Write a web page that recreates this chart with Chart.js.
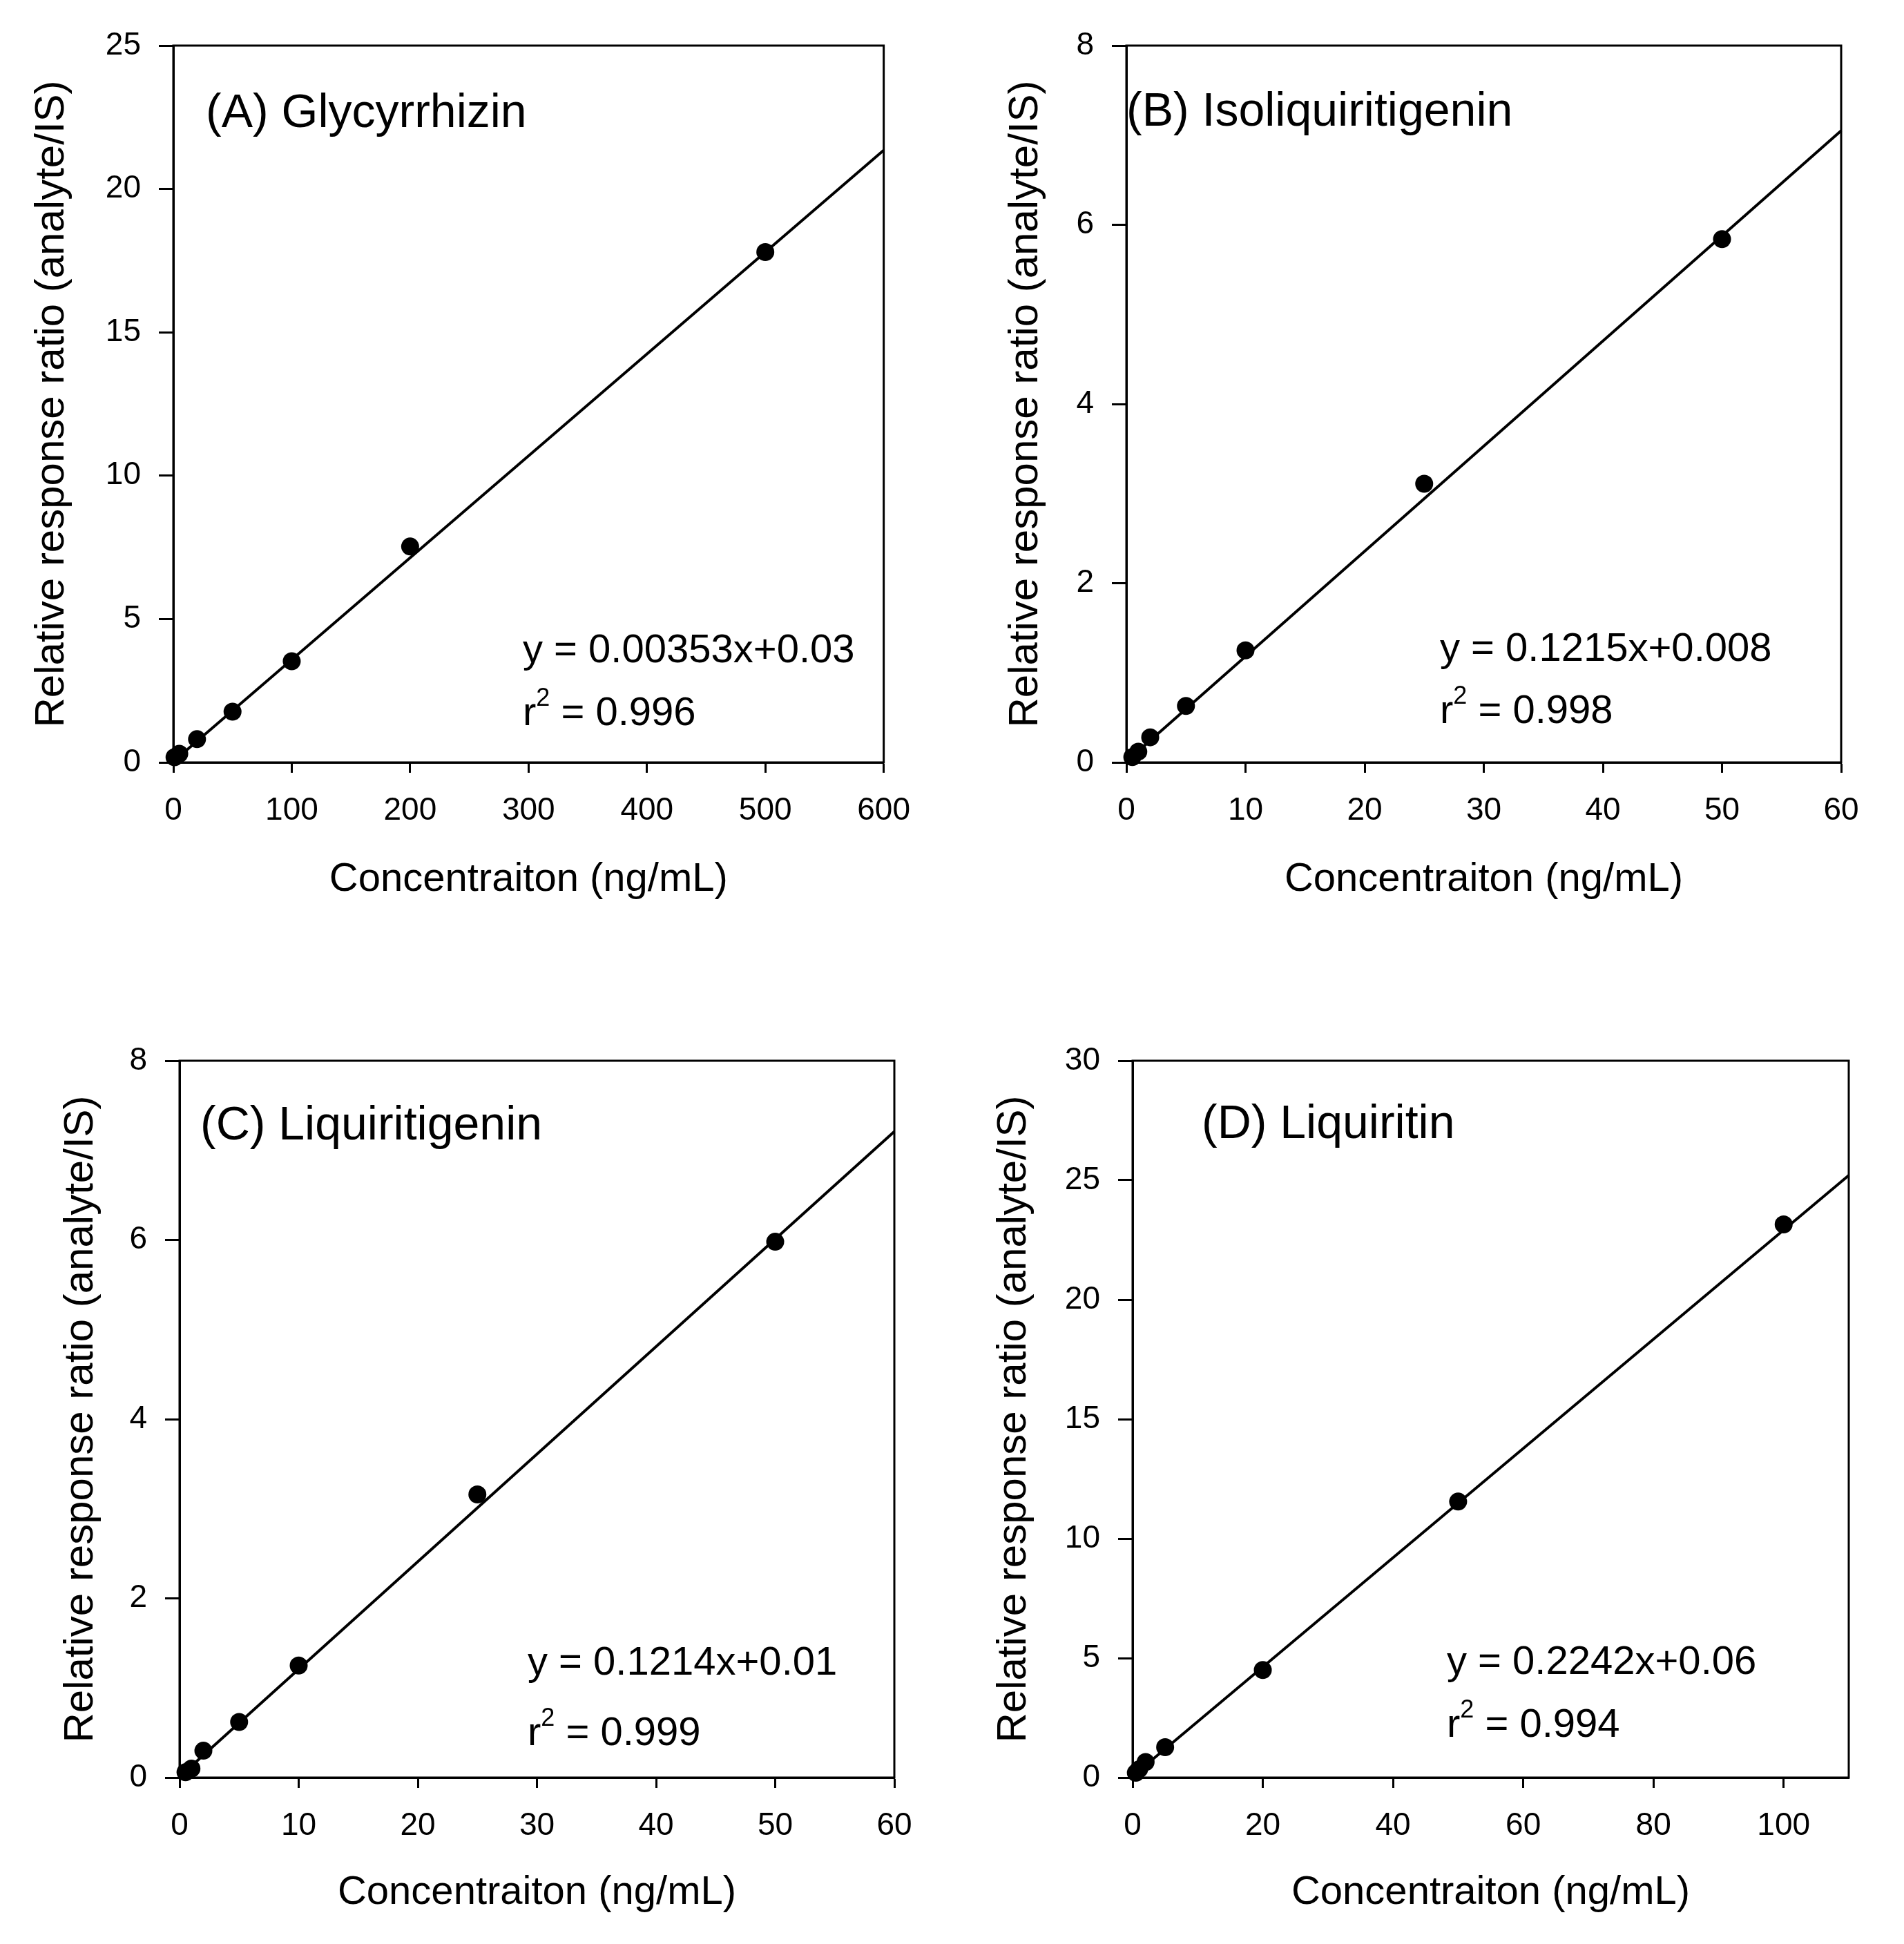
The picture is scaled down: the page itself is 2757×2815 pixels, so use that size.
<!DOCTYPE html>
<html>
<head>
<meta charset="utf-8">
<script src="https://cdn.jsdelivr.net/npm/chart.js@4.4.1/dist/chart.umd.min.js"></script>
<style>
  html, body { margin: 0; padding: 0; background: #fff; }
  body { width: 2757px; height: 2815px; position: relative; overflow: hidden; }
  .panel { position: absolute; }
</style>
</head>
<body>
<div class="panel" id="wrapA"><canvas id="chartA"></canvas></div>
<div class="panel" id="wrapB"><canvas id="chartB"></canvas></div>
<div class="panel" id="wrapC"><canvas id="chartC"></canvas></div>
<div class="panel" id="wrapD"><canvas id="chartD"></canvas></div>
<script>
// --- data ---
const titles = ["(A) Glycyrrhizin", "(B) Isoliquiritigenin", "(C) Liquiritigenin", "(D) Liquiritin"];
const equations = ["y = 0.00353x+0.03", "y = 0.1215x+0.008", "y = 0.1214x+0.01", "y = 0.2242x+0.06"];
const rSquared = ["0.996", "0.998", "0.999", "0.994"];

const concA = [1, 5, 20, 50, 100, 200, 500];
const ratioA = [0.18, 0.3, 0.81, 1.77, 3.53, 7.53, 17.8];
const fitXA = [0, 600];
const fitYA = [0.03, 21.35];

const concB = [0.5, 1, 2, 5, 10, 25, 50];
const ratioB = [0.06, 0.12, 0.28, 0.63, 1.25, 3.11, 5.84];
const fitXB = [0, 60];
const fitYB = [0.01, 7.05];

const concC = [0.5, 1, 2, 5, 10, 25, 50];
const ratioC = [0.06, 0.1, 0.3, 0.62, 1.25, 3.16, 5.98];
const fitXC = [0, 60];
const fitYC = [0.01, 7.21];

const concD = [0.5, 1, 2, 5, 20, 50, 100];
const ratioD = [0.2, 0.35, 0.65, 1.27, 4.5, 11.55, 23.15];
const fitXD = [0, 110];
const fitYD = [0.06, 25.2];

const xTicksA = [0, 100, 200, 300, 400, 500, 600];
const yTicksA = [0, 5, 10, 15, 20, 25];
const xTicksB = [0, 10, 20, 30, 40, 50, 60];
const yTicksB = [0, 2, 4, 6, 8];
const xTicksC = [0, 10, 20, 30, 40, 50, 60];
const yTicksC = [0, 2, 4, 6, 8];
const xTicksD = [0, 20, 40, 60, 80, 100];
const yTicksD = [0, 5, 10, 15, 20, 25, 30];
const xMaxD = 110;

const xTitle = "Concentraiton (ng/mL)";
const yTitle = "Relative response ratio (analyte/IS)";

// --- layout (pixels) ---
const FONT = "'Liberation Sans', Arial, sans-serif";
const panels = [
  { id: "A", plot: [251, 66, 1286, 1104], yTitlePad: 39, xTitlePad: 35, titleAt: [47, 99], eqAt: [506, 877, 968],
    conc: concA, ratio: ratioA, fitX: fitXA, fitY: fitYA, xTicks: xTicksA, yTicks: yTicksA },
  { id: "B", plot: [1631, 66, 2666, 1104], yTitlePad: 69, xTitlePad: 35, titleAt: [0, 97], eqAt: [454, 875, 965],
    conc: concB, ratio: ratioB, fitX: fitXB, fitY: fitYB, xTicks: xTicksB, yTicks: yTicksB },
  { id: "C", plot: [260, 1536, 1295, 2574], yTitlePad: 72, xTitlePad: 38, titleAt: [30, 95], eqAt: [504, 873, 975],
    conc: concC, ratio: ratioC, fitX: fitXC, fitY: fitYC, xTicks: xTicksC, yTicks: yTicksC },
  { id: "D", plot: [1640, 1536, 2677, 2574], yTitlePad: 43, xTitlePad: 38, titleAt: [100, 93], eqAt: [455, 872, 963],
    conc: concD, ratio: ratioD, fitX: fitXD, fitY: fitYD, xTicks: xTicksD, yTicks: yTicksD, xMax: xMaxD },
];

const Y_AXIS_W = 251, X_AXIS_H = 240, TOP_PAD = 66, RIGHT_PAD = 60;

const framePlugin = {
  id: "frameNotes",
  afterDraw(chart, args, opts) {
    const { ctx, chartArea: a } = chart;
    ctx.save();
    ctx.strokeStyle = "#000";
    ctx.lineWidth = 3;
    ctx.strokeRect(a.left, a.top, a.right - a.left, a.bottom - a.top);

    ctx.fillStyle = "#000";
    ctx.textBaseline = "middle";
    ctx.textAlign = "left";
    ctx.font = "68px " + FONT;
    ctx.fillText(opts.title, a.left + opts.titleAt[0], a.top + opts.titleAt[1]);

    ctx.font = "58px " + FONT;
    const ex = a.left + opts.eqAt[0];
    ctx.fillText(opts.equation, ex, a.top + opts.eqAt[1]);
    const ry = a.top + opts.eqAt[2];
    ctx.fillText("r", ex, ry);
    let w = ctx.measureText("r").width;
    ctx.font = "36px " + FONT;
    ctx.fillText("2", ex + w, ry - 22);
    w += ctx.measureText("2").width;
    ctx.font = "58px " + FONT;
    ctx.fillText(" = " + opts.r2, ex + w, ry);
    ctx.restore();
  }
};

panels.forEach((p, i) => {
  const [pl, pt, pr, pb] = p.plot;
  const boxLeft = pl - Y_AXIS_W, boxTop = pt - TOP_PAD;
  const boxW = pr - boxLeft + RIGHT_PAD, boxH = pb - boxTop + X_AXIS_H;
  const wrap = document.getElementById("wrap" + p.id);
  wrap.style.left = boxLeft + "px";
  wrap.style.top = boxTop + "px";
  wrap.style.width = boxW + "px";
  wrap.style.height = boxH + "px";

  const points = p.conc.map((c, k) => ({ x: c, y: p.ratio[k] }));
  const fit = p.fitX.map((c, k) => ({ x: c, y: p.fitY[k] }));
  const xMax = p.xMax !== undefined ? p.xMax : p.xTicks[p.xTicks.length - 1];
  const yMax = p.yTicks[p.yTicks.length - 1];

  new Chart(document.getElementById("chart" + p.id), {
    type: "scatter",
    data: {
      datasets: [
        {
          label: "fit",
          data: fit,
          showLine: true,
          borderColor: "#000",
          borderWidth: 4,
          pointRadius: 0,
          clip: false,
        },
        {
          label: "data",
          data: points,
          backgroundColor: "#000",
          borderColor: "#000",
          pointRadius: 13,
          borderWidth: 0,
          clip: false,
        },
      ],
    },
    options: {
      responsive: true,
      maintainAspectRatio: false,
      animation: false,
      devicePixelRatio: 1,
      layout: { padding: { top: TOP_PAD, right: RIGHT_PAD, left: 0, bottom: 0 } },
      plugins: {
        legend: { display: false },
        tooltip: { enabled: false },
        frameNotes: { title: titles[i], equation: equations[i], r2: rSquared[i], titleAt: p.titleAt, eqAt: p.eqAt },
      },
      scales: {
        x: {
          type: "linear",
          min: 0,
          max: xMax,
          afterBuildTicks: (s) => { s.ticks = p.xTicks.map((v) => ({ value: v })); },
          afterFit: (s) => { s.height = X_AXIS_H; },
          border: { display: true, color: "#000", width: 3 },
          grid: { drawOnChartArea: false, drawTicks: true, tickLength: 15, tickWidth: 3, tickColor: "#000" },
          ticks: { color: "#000", padding: 28, font: { family: FONT, size: 46 }, maxRotation: 0 },
          title: { display: true, text: xTitle, color: "#000", font: { family: FONT, size: 58 }, padding: { top: 0, bottom: p.xTitlePad } },
        },
        y: {
          type: "linear",
          min: 0,
          max: yMax,
          afterBuildTicks: (s) => { s.ticks = p.yTicks.map((v) => ({ value: v })); },
          afterFit: (s) => { s.width = Y_AXIS_W; },
          border: { display: true, color: "#000", width: 3 },
          grid: { drawOnChartArea: false, drawTicks: true, tickLength: 21, tickWidth: 3, tickColor: "#000" },
          ticks: { color: "#000", padding: 26, font: { family: FONT, size: 46 } },
          title: { display: true, text: yTitle, color: "#000", font: { family: FONT, size: 60 }, padding: { top: p.yTitlePad, bottom: 0 } },
        },
      },
    },
    plugins: [framePlugin],
  });
});
</script>
</body>
</html>
